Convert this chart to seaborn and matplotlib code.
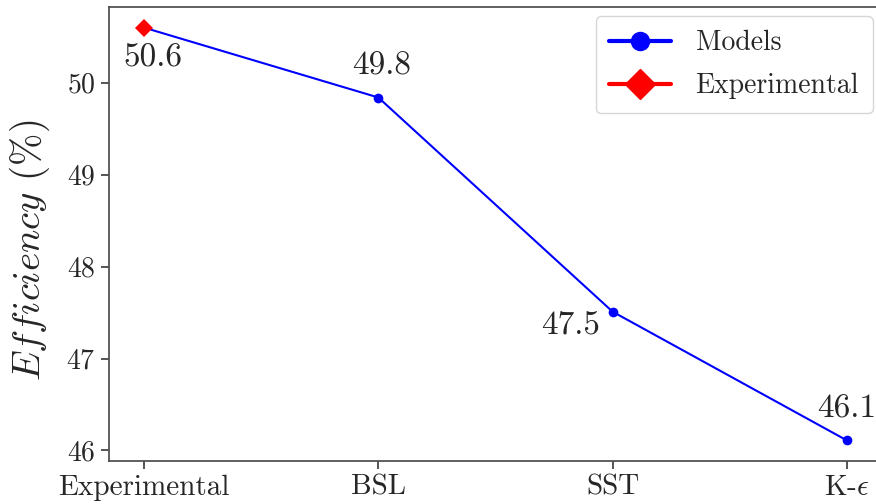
import matplotlib
matplotlib.use("Agg")
import matplotlib.pyplot as plt
from matplotlib.lines import Line2D
import seaborn as sns
import pandas as pd

# Turbulence models compared against the measured value
categories = ["Experimental", "BSL", "SST", r"K-$\epsilon$"]
efficiency = [50.6, 49.84, 47.51, 46.11]
experimental_value = [50.6]

sns.set_theme(style="ticks")
plt.rcParams.update({
    "font.family": "serif",
    "font.serif": ["cmr10", "DejaVu Serif"],
    "mathtext.fontset": "cm",
    "axes.formatter.use_mathtext": True,
    "axes.unicode_minus": False,
})

df = pd.DataFrame({"pos": range(len(categories)), "eff": efficiency})

fig = plt.figure(figsize=(8.76, 5.04), dpi=100)
ax = fig.add_axes([0.1244, 0.0853, 0.8824, 0.9008])

sns.lineplot(data=df, x="pos", y="eff", ax=ax, color="blue", marker="o",
             markersize=7, markeredgewidth=0, linewidth=1.5)
ax.plot([0], experimental_value, marker="D", color="red", markersize=9,
        markeredgewidth=0, linestyle="none", zorder=4)

# value labels
offsets = [(6.5, -21.5), (2, 22.5), (-30.5, -9.5), (0, 22.5)]
for i, (v, off) in enumerate(zip(efficiency, offsets)):
    ax.annotate(f"{v:.1f}", xy=(i, v), xytext=off, textcoords="offset points",
                ha="center", va="center", fontsize=24, color="0.15")

ax.set_xticks(range(len(categories)))
ax.set_xticklabels(categories)
ax.tick_params(axis="both", labelsize=20, colors="0.25", labelcolor="0.15")
ax.tick_params(axis="x", labelsize=21)
ax.set_xlabel("")
ax.set_ylabel(r"$Efficiency$ (%)", fontsize=28, color="0.15")
ax.yaxis.set_label_coords(-0.074, 0.465)
for s in ax.spines.values():
    s.set_color("0.3")

handles = [
    Line2D([], [], color="blue", marker="o", markersize=13, linewidth=3),
    Line2D([], [], color="red", marker="D", markersize=15, linewidth=3),
]
ax.legend(handles, ["Models", "Experimental"], loc="upper right", fontsize=20,
          frameon=True, handlelength=2.2, borderaxespad=0.33, labelspacing=0.6,
          borderpad=0.5, handletextpad=0.9)

fig.savefig("out.png", dpi=100)
